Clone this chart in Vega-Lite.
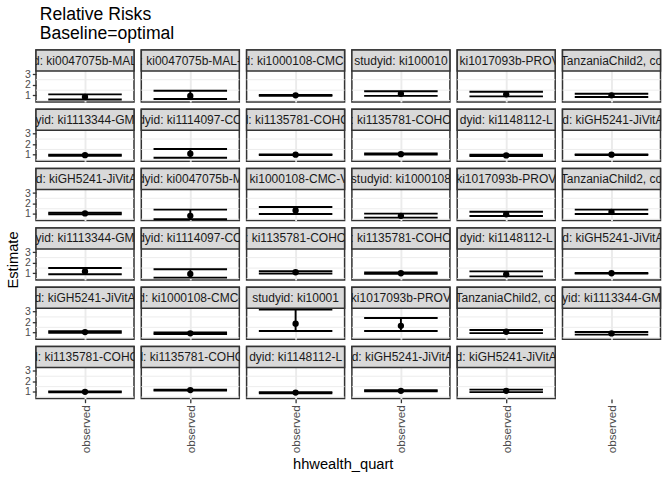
{
  "$schema": "https://vega.github.io/schema/vega-lite/v6.json",
  "padding": {"left": 5, "top": 5, "right": 5, "bottom": 5},
  "title": {"text": ["Relative Risks", "Baseline=optimal"], "anchor": "start", "fontSize": 17.6, "fontWeight": "normal", "color": "black", "font": "Liberation Sans", "lineHeight": 19, "offset": 6, "dx": 34},
  "data": {"values": [
    {"id": "01", "label": "d: ki0047075b-MAL", "x": "observed", "est": 0.85, "lo": 0.6, "hi": 1.1},
    {"id": "02", "label": ": ki0047075b-MAL-", "x": "observed", "est": 0.95, "lo": 0.65, "hi": 1.45},
    {"id": "03", "label": "d: ki1000108-CMC-", "x": "observed", "est": 1.0, "lo": 0.96, "hi": 1.04},
    {"id": "04", "label": "studyid: ki100010", "x": "observed", "est": 1.15, "lo": 0.95, "hi": 1.4},
    {"id": "05", "label": ": ki1017093b-PROV", "x": "observed", "est": 1.1, "lo": 0.9, "hi": 1.35},
    {"id": "06", "label": "TanzaniaChild2, co", "x": "observed", "est": 1.0, "lo": 0.85, "hi": 1.15},
    {"id": "07", "label": "yid: ki1113344-GM", "x": "observed", "est": 0.95, "lo": 0.9, "hi": 1.0},
    {"id": "08", "label": "dyid: ki1114097-CO", "x": "observed", "est": 1.1, "lo": 0.7, "hi": 1.55},
    {"id": "09", "label": "d: ki1135781-COHO", "x": "observed", "est": 1.0, "lo": 0.97, "hi": 1.03},
    {"id": "10", "label": ": ki1135781-COHO", "x": "observed", "est": 1.05, "lo": 1.0, "hi": 1.12},
    {"id": "11", "label": "dyid: ki1148112-L", "x": "observed", "est": 0.93, "lo": 0.87, "hi": 1.0},
    {"id": "12", "label": "id: kiGH5241-JiVitA", "x": "observed", "est": 1.0, "lo": 0.97, "hi": 1.03},
    {"id": "13", "label": "id: kiGH5241-JiVitA", "x": "observed", "est": 1.05, "lo": 0.97, "hi": 1.12},
    {"id": "14", "label": "dyid: ki0047075b-M", "x": "observed", "est": 0.82, "lo": 0.5, "hi": 1.42},
    {"id": "15", "label": ": ki1000108-CMC-V", "x": "observed", "est": 1.33, "lo": 1.0, "hi": 1.67},
    {"id": "16", "label": "studyid: ki1000108", "x": "observed", "est": 0.82, "lo": 0.65, "hi": 1.03},
    {"id": "17", "label": "ki1017093b-PROV", "x": "observed", "est": 0.97, "lo": 0.8, "hi": 1.22},
    {"id": "18", "label": "TanzaniaChild2, co", "x": "observed", "est": 1.2, "lo": 1.0, "hi": 1.42},
    {"id": "19", "label": "yid: ki1113344-GM", "x": "observed", "est": 1.17, "lo": 0.9, "hi": 1.5},
    {"id": "20", "label": "dyid: ki1114097-CO", "x": "observed", "est": 0.93, "lo": 0.58, "hi": 1.38},
    {"id": "21", "label": ": ki1135781-COHO", "x": "observed", "est": 1.1, "lo": 0.97, "hi": 1.2},
    {"id": "22", "label": ": ki1135781-COHO", "x": "observed", "est": 1.0, "lo": 0.94, "hi": 1.07},
    {"id": "23", "label": "dyid: ki1148112-L", "x": "observed", "est": 0.9, "lo": 0.7, "hi": 1.18},
    {"id": "24", "label": "id: kiGH5241-JiVitA", "x": "observed", "est": 1.0, "lo": 0.97, "hi": 1.03},
    {"id": "25", "label": "d: kiGH5241-JiVitA", "x": "observed", "est": 1.05, "lo": 0.98, "hi": 1.12},
    {"id": "26", "label": "d: ki1000108-CMC-", "x": "observed", "est": 0.93, "lo": 0.86, "hi": 1.0},
    {"id": "27", "label": "studyid: ki10001", "x": "observed", "est": 1.85, "lo": 1.15, "hi": 3.2},
    {"id": "28", "label": "ki1017093b-PROV", "x": "observed", "est": 1.65, "lo": 1.15, "hi": 2.4},
    {"id": "29", "label": "TanzaniaChild2, co", "x": "observed", "est": 1.08, "lo": 0.95, "hi": 1.25},
    {"id": "30", "label": "yid: ki1113344-GM", "x": "observed", "est": 0.92, "lo": 0.8, "hi": 1.05},
    {"id": "31", "label": "d: ki1135781-COHO", "x": "observed", "est": 1.0, "lo": 0.95, "hi": 1.05},
    {"id": "32", "label": "d: ki1135781-COHO", "x": "observed", "est": 1.17, "lo": 1.12, "hi": 1.22},
    {"id": "33", "label": "dyid: ki1148112-L", "x": "observed", "est": 0.93, "lo": 0.87, "hi": 0.98},
    {"id": "34", "label": "id: kiGH5241-JiVitA", "x": "observed", "est": 1.1, "lo": 1.05, "hi": 1.15},
    {"id": "35", "label": "d: kiGH5241-JiVitA", "x": "observed", "est": 1.1, "lo": 0.98, "hi": 1.22}
  ]},
  "vconcat": [
    {
      "title": {"text": "Estimate", "orient": "left", "anchor": "middle", "fontSize": 14.7, "fontWeight": "normal", "color": "black", "offset": 4},
      "vconcat": [
        {
          "title": {"text": "hhwealth_quart", "orient": "bottom", "anchor": "middle", "fontSize": 14.7, "fontWeight": "normal", "color": "black", "offset": 4},
          "facet": {"field": "id", "type": "ordinal", "header": {"labels": false, "title": null, "labelExpr": "''", "labelFontSize": 0, "labelPadding": 0, "titlePadding": 0}},
          "columns": 6,
          "bounds": "flush",
          "spacing": {"row": 7.3, "column": 7.3},
          "spec": {
            "width": 98,
            "height": 52,
            "layer": [
              {
                "mark": {"type": "rule", "strokeWidth": 0.95, "color": "#EBEBEB"},
                "encoding": {"y": {"datum": 0.5, "type": "quantitative", "scale": {"domain": [0.365, 5.347], "nice": false, "zero": false}, "axis": {"values": [1, 2, 3], "labelOverlap": false}}}
              },
              {
                "mark": {"type": "rule", "strokeWidth": 0.95, "color": "#EBEBEB"},
                "encoding": {"y": {"datum": 1.5, "type": "quantitative", "axis": {"values": [1, 2, 3], "labelOverlap": false}}}
              },
              {
                "mark": {"type": "rule", "strokeWidth": 0.95, "color": "#EBEBEB"},
                "encoding": {"y": {"datum": 2.5, "type": "quantitative", "axis": {"values": [1, 2, 3], "labelOverlap": false}}}
              },
              {
                "mark": {"type": "rule", "strokeWidth": 1.9, "color": "black"},
                "encoding": {
                  "x": {"field": "x", "type": "nominal", "scale": {"type": "point", "padding": 0.5}},
                  "y": {"field": "lo", "type": "quantitative", "axis": {"values": [1, 2, 3], "labelOverlap": false}},
                  "y2": {"field": "hi"}
                }
              },
              {
                "mark": {"type": "tick", "orient": "horizontal", "size": 73.5, "thickness": 1.9, "color": "black", "opacity": 1},
                "encoding": {"x": {"field": "x", "type": "nominal"}, "y": {"field": "lo", "type": "quantitative", "axis": {"values": [1, 2, 3], "labelOverlap": false}}}
              },
              {
                "mark": {"type": "tick", "orient": "horizontal", "size": 73.5, "thickness": 1.9, "color": "black", "opacity": 1},
                "encoding": {"x": {"field": "x", "type": "nominal"}, "y": {"field": "hi", "type": "quantitative", "axis": {"values": [1, 2, 3], "labelOverlap": false}}}
              },
              {
                "mark": {"type": "circle", "size": 40, "opacity": 1, "color": "black"},
                "encoding": {"x": {"field": "x", "type": "nominal"}, "y": {"field": "est", "type": "quantitative", "axis": {"values": [1, 2, 3], "labelOverlap": false}}}
              },
              {
                "mark": {"type": "rect", "fill": "#D9D9D9", "stroke": "#333333", "strokeWidth": 1.5},
                "encoding": {"y": {"datum": 3.335, "type": "quantitative", "axis": {"values": [1, 2, 3], "labelOverlap": false}}, "y2": {"datum": 5.347}}
              },
              {
                "mark": {"type": "text", "fontSize": 12, "color": "#1A1A1A", "align": "center", "baseline": "middle", "clip": true},
                "encoding": {"x": {"field": "x", "type": "nominal"}, "y": {"datum": 4.34, "type": "quantitative", "axis": {"values": [1, 2, 3], "labelOverlap": false}}, "text": {"field": "label"}}
              }
            ]
          }
        }
      ]
    }
  ],
  "config": {
    "font": "Liberation Sans",
    "view": {"stroke": "#333333", "strokeWidth": 1.5},
    "background": "white",
    "header": {"labels": false, "title": null, "labelFontSize": 0, "labelPadding": 0},
    "axisX": {"title": null, "labelAngle": -90, "labelFontSize": 11.7, "labelColor": "#4D4D4D", "tickColor": "#333333", "tickWidth": 1.3, "tickSize": 3.7, "domain": false, "grid": true, "gridColor": "#EBEBEB", "gridWidth": 1.9, "labelPadding": 2},
    "axisY": {"title": null, "labelOverlap": false, "labelBound": false, "gridColor": "#EBEBEB", "gridWidth": 1.9, "tickColor": "#333333", "tickWidth": 1.3, "tickSize": 3.7, "domain": false, "labelFontSize": 10.5, "labelColor": "#4D4D4D", "labelPadding": 2}
  }
}
